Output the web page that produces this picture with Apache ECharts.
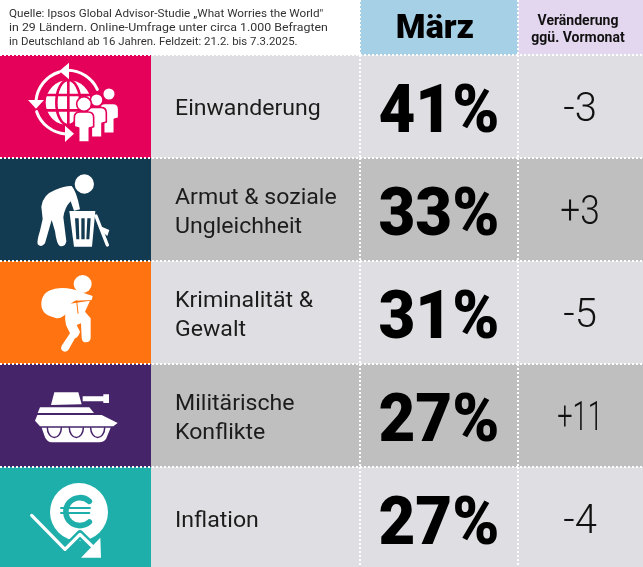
<!DOCTYPE html>
<html><head><meta charset="utf-8">
<style>html,body{margin:0;padding:0;background:#fff}#c{width:643px;height:567px}</style>
<script src="https://cdn.jsdelivr.net/npm/echarts@6/dist/echarts.min.js"></script>
</head><body><div id="c"></div>
<script>
const categories = ['Einwanderung','Armut & soziale\nUngleichheit','Kriminalität &\nGewalt','Militärische\nKonflikte','Inflation'];
const marchValues = [41,33,31,27,27];
const changeLabels = ['-3','+3','-5','+11','-4'];
const tileColors = ['#e5005a','#123a50','#ff7410','#46246a','#1fafab'];
const sourceLines = ['Quelle: Ipsos Global Advisor-Studie „What Worries the World"','in 29 Ländern. Online-Umfrage unter circa 1.000 Befragten','in Deutschland ab 16 Jahren. Feldzeit: 21.2. bis 7.3.2025.'];
const headMonth = 'März';
const headChange = 'Veränderung\nggü. Vormonat';

const sourceStretch = [1.063,1.125,1.037];
const changeStretch = [1,.88,1,.68,1];
const F = 'Roboto';
const circ = (x,y,r)=>`M${x-r} ${y}a${r} ${r} 0 1 0 ${2*r} 0a${r} ${r} 0 1 0 ${-2*r} 0Z`;
const person = (c,y,k)=>{const p=(a,b)=>`${c+a*k} ${y+b*k}`;
  return `M${p(-29,17)}Q${p(-29,0)} ${p(-12,0)}L${p(12,0)}Q${p(29,0)} ${p(29,17)}L${p(29,44)}L${p(16,48)}L${p(16,90)}L${p(-16,90)}L${p(-16,48)}L${p(-29,44)}Z`;};
const W='#fff';
const icons = [
 {y0:15,y1:323,parts:c=>[
  [W,null,0,circ(205,158,68)],
  [null,c,2.6,'M205 88V228M137 135H273M137 181H273M205 90A36 68 0 0 0 205 226M205 90A36 68 0 0 1 205 226'],
  [null,W,3,'M292 118A100 100 0 0 0 203 61'],
  [W,null,0,'M207 38L178 63L207 88Z'],
  [null,W,3,'M178 66A100 100 0 0 0 108 152'],
  [W,null,0,'M84 150L132 150L108 176Z'],
  [null,W,3,'M110 185A100 100 0 0 0 197 252'],
  [W,null,0,'M195 227L222 251L195 276Z'],
  [W,c,1.6,person(327,160,1)],[W,c,1.6,circ(327,132,19)],
  [W,c,1.6,person(290,172,1)],[W,c,1.6,circ(290,150,19)],
  [W,c,1.6,person(252,186,1)],[W,c,1.6,circ(252,162,22)],
 ]},
 {y0:22,y1:331,parts:c=>[
  [W,null,0,circ(253,100,29)],
  [W,null,0,'M124 168Q128 132 165 118Q195 105 215 106Q230 122 240 176L222 180L212 152Q194 170 190 200L199 272Q196 290 180 286Q170 282 165 242L155 208L135 278Q124 292 113 281Q110 270 120 240L128 205Z'],
  [W,null,0,'M208 181L286 181L276 288L222 288Z'],
  [c,null,0,'M225 203L236 203L238 266L229 266ZM244 203L254 203L254 266L244 266ZM262 203L272 203L268 266L259 266Z'],
  [null,W,3.4,'M288 196L322 283'],
  [W,null,0,'M305 228L328 238L322 256L308 245Z'],
 ]},
 {y0:333,y1:640,parts:c=>[
  [W,null,0,circ(248,402,27)],
  [W,null,0,'M124 462Q124 425 165 416Q205 410 240 425L278 438L275 450L225 452Q195 470 200 490Q180 510 165 503Q124 495 124 462Z'],
  [W,null,0,'M205 462L270 452L255 485L272 505L272 565Q270 577 258 577Q246 577 245 563L243 520L230 525L240 545Q236 560 225 565L205 600Q195 610 185 600Q180 592 190 580L210 550L198 525Q190 490 205 462Z'],
  [null,c,1,'M230 452L234 490'],
 ]},
 {y0:25,y1:335,parts:c=>[
  [W,null,0,'M163 110L235 110L245 146L153 148Z'],
  [W,null,0,'M248 122L310 122L310 116L327 116L327 142L310 142L310 137L248 137Z'],
  [W,null,0,'M120 155L268 155L282 172L113 172Z'],
  [W,null,0,'M112 178L305 178L353 202L340 212L120 212L105 195Z'],
  [W,null,0,'M125 216L332 216L318 250Q310 260 298 260L155 260Q142 260 135 245Z'],
  [null,c,1.5,'M142 216A20 28 0 0 0 184 216M208 216A20 28 0 0 0 250 216M272 216A20 28 0 0 0 314 216'],
 ]},
 {y0:335,y1:636,parts:c=>[
  [W,null,0,circ(237,470,87)],
  [null,c,5.6,'M268 438A42 42 0 1 0 268 500'],
  [null,c,1.9,'M183 458L270 458M183 473L268 473'],
  [null,c,8,'M95 480L195 582L240 537L282 578'],
  [null,W,3.2,'M95 480L195 582L240 537L282 578'],
  [W,null,0,'M301 547L303 607L243 607Z'],
 ]},
];

const rowRender = (params, api) => {
  const i = api.value(0);
  const yc = api.coord([0, i])[1];
  const h = api.size([0, 1])[1];
  const top = yc - h/2;
  const col = x => api.coord([x, i])[0];
  const rowFill = i % 2 ? '#bfbfbf' : '#dfdfe3';
  const children = [
    {type:'rect',shape:{x:col(0),y:top,width:151,height:h},style:{fill:tileColors[i]}},
    {type:'rect',shape:{x:col(151),y:top,width:492,height:h},style:{fill:rowFill}},
  ];
  const ic = icons[i];
  const anchor = `M0 ${ic.y0}L0 ${ic.y0}M453 ${ic.y1}L453 ${ic.y1}`;
  const boxH = (ic.y1-ic.y0)/3;
  ic.parts(tileColors[i]).forEach(p=>{
    children.push({type:'path',shape:{pathData:anchor+p[3],layout:'cover',x:col(0),y:top,width:151,height:boxH},
      style:{fill:p[0]||'none',stroke:p[1]||'none',lineWidth:p[2],lineCap:'round',lineJoin:'round'}});
  });
  children.push(
    {type:'text',x:col(175),y:yc+3,scaleX:1.05,style:{text:categories[i],fill:'#1c1c1c',font:`400 22px ${F}`,lineHeight:29,align:'left',verticalAlign:'middle'}},
    {type:'text',x:col(439),y:yc+9,scaleX:0.95,style:{text:marchValues[i]+'%',fill:'#000',font:`900 67px ${F}`,align:'center',verticalAlign:'middle'}},
    {type:'text',x:col(580),y:yc+4.5,scaleX:changeStretch[i],style:{text:changeLabels[i],fill:'#111',font:`300 40px ${F}`,align:'center',verticalAlign:'middle'}},
    {type:'line',shape:{x1:0,y1:top,x2:643,y2:top},style:{stroke:'#fff',lineWidth:2,lineDash:[2,2]}},
    {type:'line',shape:{x1:col(360),y1:top,x2:col(360),y2:top+h},style:{stroke:'#fff',lineWidth:2,lineDash:[2,2]}},
    {type:'line',shape:{x1:col(518),y1:top,x2:col(518),y2:top+h},style:{stroke:'#fff',lineWidth:2,lineDash:[2,2]}}
  );
  return {type:'group',children};
};

const chart = echarts.init(document.getElementById('c'),null,{renderer:'canvas'});
chart.setOption({
  animation:false,
  backgroundColor:'#fff',
  grid:{left:0,right:0,top:55,height:515,outerBoundsMode:'none'},
  xAxis:{type:'value',min:0,max:643,show:false},
  yAxis:{type:'category',inverse:true,data:categories,show:false},
  graphic:[
    {type:'rect',shape:{x:360,y:0,width:158,height:55},style:{fill:'#a6d0e6'}},
    {type:'rect',shape:{x:518,y:0,width:125,height:55},style:{fill:'#e3d7ef'}},
    {type:'line',shape:{x1:360,y1:0,x2:360,y2:55},style:{stroke:'#fff',lineWidth:2,lineDash:[2,2]}},
    {type:'line',shape:{x1:518,y1:0,x2:518,y2:55},style:{stroke:'#fff',lineWidth:2,lineDash:[2,2]}},
    ...sourceLines.map((t,k)=>({type:'text',x:9,y:14+k*14.3,scaleX:sourceStretch[k],style:{text:t,fill:'#333',font:`400 11px ${F}`,align:'left',verticalAlign:'middle'}})),
    {type:'text',x:435,y:29,style:{text:headMonth,fill:'#000',font:`900 34px ${F}`,align:'center',verticalAlign:'middle'}},
    {type:'text',x:578,y:29.5,style:{text:headChange,fill:'#111',font:`700 14px ${F}`,lineHeight:17,align:'center',verticalAlign:'middle'}},
  ],
  series:[{type:'custom',coordinateSystem:'cartesian2d',clip:false,silent:true,
    data:categories.map((c,i)=>[i]),encode:{y:0},renderItem:rowRender}]
});
</script></body></html>
